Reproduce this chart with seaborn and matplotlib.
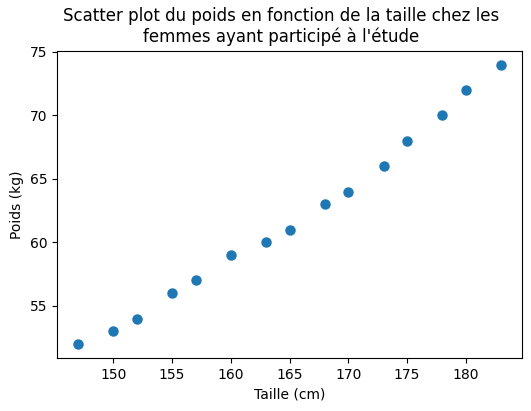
import matplotlib
matplotlib.use("Agg")
import matplotlib.pyplot as plt
import seaborn as sns
import pandas as pd

taille = [147, 150, 152, 155, 157, 160, 163, 165, 168, 170, 173, 175, 178, 180, 183]
poids = [52, 53, 54, 56, 57, 59, 60, 61, 63, 64, 66, 68, 70, 72, 74]

df = pd.DataFrame({"Taille (cm)": taille, "Poids (kg)": poids})

fig = plt.figure(figsize=(5.31, 4.11), dpi=100)
ax = fig.add_axes([0.1073, 0.129, 0.876, 0.748])
sns.scatterplot(data=df, x="Taille (cm)", y="Poids (kg)", ax=ax, s=36,
                linewidth=1.5, edgecolor="#1f77b4", color="#1f77b4")
ax.set_title("Scatter plot du poids en fonction de la taille chez les\nfemmes ayant participé à l'étude",
             x=0.482)
ax.set_xlabel("Taille (cm)")
ax.set_ylabel("Poids (kg)")
fig.savefig("out.png", dpi=100)
